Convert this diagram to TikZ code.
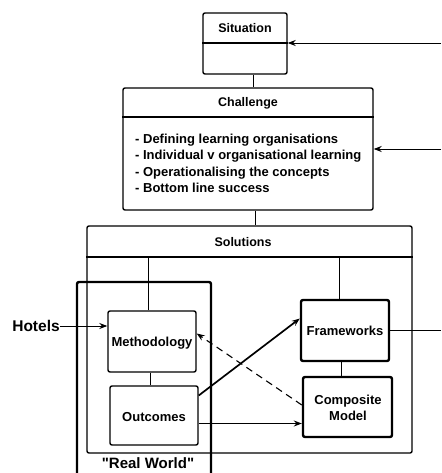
\documentclass[tikz,border=0pt]{standalone}
\usepackage{fontspec}
\setmainfont{Liberation Sans}
\newfontfamily\straightfont{Liberation Sans}
\usepackage{tikz}
\usetikzlibrary{arrows.meta, positioning}

\begin{document}
\begin{tikzpicture}[x=1pt, y=-1pt,
  box/.style={draw, line width=1.4pt, rounded corners=2pt, inner sep=0pt},
  heavybox/.style={box, line width=2.4pt},
  title/.style={font=\bfseries\fontsize{12.5}{15}\selectfont, inner sep=0pt},
  label/.style={font=\bfseries\fontsize{13}{16}\selectfont, inner sep=0pt, align=center},
  link/.style={line width=0.9pt},
  arr/.style={-{Stealth[length=8pt, width=6pt]}}]
\useasboundingbox (0,0) rectangle (441,473);
\coordinate (edge) at (441,0);

\node[box, minimum width=84pt, minimum height=61pt] (sit) at (245,43.5) {};
\node[title] (sittitle) at (245,28) {Situation};
\coordinate (sitdiv) at (245,43);
\draw[line width=1.4pt] (sit.west |- sitdiv) -- (sit.east |- sitdiv);

\node[box, minimum width=250pt, minimum height=122pt] (chal) at (248,149) {};
\node[title] (chaltitle) at (248,103) {Challenge};
\coordinate (chaldiv) at (248,117);
\draw[line width=1.4pt] (chal.west |- chaldiv) -- (chal.east |- chaldiv);
\node[label, align=left, anchor=north west, font=\bfseries\fontsize{13}{16.5}\selectfont] (chalitems) at (135,133.5)
  {- Defining learning organisations\\- Individual v organisational learning\\- Operationalising the concepts\\- Bottom line success};

\node[box, minimum width=325pt, minimum height=227pt] (sol) at (249.5,339.5) {};
\node[title] (soltitle) at (243,242) {Solutions};
\coordinate (soldiv) at (249.5,257);
\draw[line width=1.4pt] (sol.west |- soldiv) -- (sol.east |- soldiv);

\draw[line width=2.4pt, rounded corners=2pt] (77,480) -- (77,282) -- (211,282) -- (211,480);
\node[font=\straightfont\bfseries\fontsize{15}{17}\selectfont, inner sep=0pt] (realworld) at (148,463.5) {"Real World"};

\node[box, minimum width=88pt, minimum height=61pt] (meth) at (152,341.5) {};
\node[label] (methtext) at (152,343) {Methodology};
\node[box, minimum width=88pt, minimum height=59pt] (out) at (154,415.5) {};
\node[label] (outtext) at (154,417) {Outcomes};
\node[heavybox, minimum width=88pt, minimum height=61pt] (frame) at (345,330.5) {};
\node[label] (frametext) at (345,331) {Frameworks};
\node[heavybox, minimum width=89pt, minimum height=60pt] (comp) at (347.5,407) {};
\node[label] (comptext) at (348,408) {Composite\\Model};

\node[font=\bfseries\fontsize{15.5}{18}\selectfont, inner sep=0pt] (hotels) at (36,326) {Hotels};

\draw[link] ([xshift=8pt]sit.south) -- ([xshift=8pt]sit.south |- chal.north);
\draw[link] ([xshift=7pt]chal.south) -- ([xshift=7pt]chal.south |- sol.north);
\draw[link] ([xshift=-4pt]meth.north) -- ([xshift=-4pt]meth.north |- soldiv);
\draw[link] ([xshift=-6pt]frame.north) -- ([xshift=-6pt]frame.north |- soldiv);
\draw[link] ([xshift=-2pt]meth.south) -- ([xshift=-2pt]meth.south |- out.north);
\draw[link] ([xshift=-4pt]frame.south) -- ([xshift=-4pt]frame.south |- comp.north);

\draw[link, arr] (edge |- sitdiv) -- (sit.east |- sitdiv);
\draw[link, arr] (edge |- chal.east) -- (chal.east);
\draw[link] (frame.east) -- (frame.east -| edge);
\draw[link, arr] (hotels.east) -- (hotels.east -| meth.west);

\draw[line width=1.7pt, arr] ([yshift=20pt]out.east) -- ([yshift=12pt]frame.west);
\draw[line width=1.2pt, arr] ([yshift=-8pt]out.east) -- ([yshift=-8pt]out.east -| comp.west);
\draw[line width=1.1pt, dash pattern=on 7pt off 5pt, arr] ([yshift=2pt]comp.west) -- ([yshift=8pt]meth.east);
\end{tikzpicture}
\end{document}
